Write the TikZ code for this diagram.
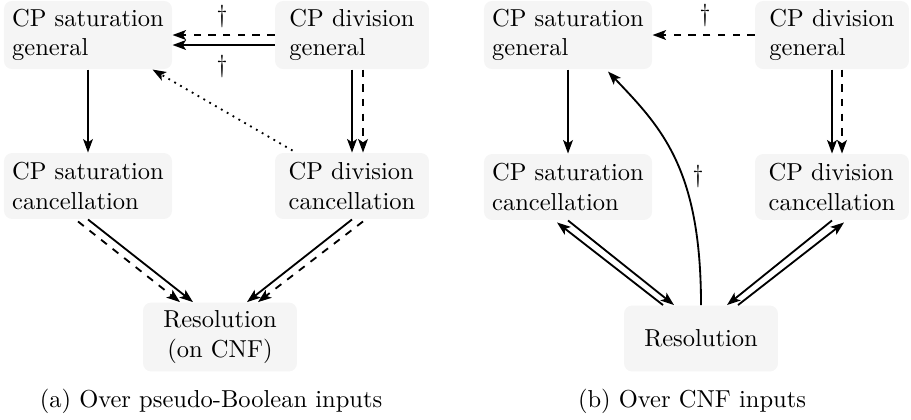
\documentclass[tikz,border=0pt]{standalone}
\usetikzlibrary{arrows.meta,calc}
\begin{document}
\begin{tikzpicture}[x=0.408pt,y=-0.408pt,
  box/.style={fill=gray!8, rounded corners=3.3pt, inner sep=3.33pt, minimum width=62.8pt, minimum height=26.9pt},
  lbox/.style={box, align=left},
  cbox/.style={box, align=center},
  arr/.style={line width=0.75pt, -{Stealth[length=5.5pt,width=4pt,inset=1.3pt]}},
  dg/.style={inner sep=0pt}]
\useasboundingbox (0,0) rectangle (911,419);
% (a)
\node[lbox] (sg) at (88,35) {CP saturation\\general};
\node[lbox] (dg) at (352,35) {CP division\\general};
\node[lbox] (sc) at (88,186) {CP saturation\\cancellation};
\node[lbox] (dc) at (352,186) {CP division\\cancellation};
\node[cbox] (res) at (220,337) {Resolution\\(on CNF)};
\draw[arr, dashed] (dg.west) -- (sg.east);
\draw[arr] ($(dg.west)+(0,10)$) -- ($(sg.east)+(0,10)$);
\node[dg] (d1) at (222,16) {\dag};
\node[dg] (d2) at (222,66) {\dag};
\draw[arr] (sg.south) -- (sc.north);
\draw[arr] (dg.south) -- (dc.north);
\draw[arr, dashed] ($(dg.south)+(11,0)$) -- ($(dc.north)+(11,0)$);
\draw[arr, dotted] ($(dc.north west)+(18,-2)$) -- ($(sg.south east)+(-20,0)$);
\draw[arr] (sc.south) -- ($(res.north)+(-27,0)$);
\draw[arr, dashed] ($(sc.south)+(-10,2)$) -- ($(res.north)+(-40,0)$);
\draw[arr] (dc.south) -- ($(res.north)+(27,0)$);
\draw[arr, dashed] ($(dc.south)+(11,2)$) -- ($(res.north)+(38,0)$);
\node (capa) at (211,401) {(a) Over pseudo-Boolean inputs};
% (b)
\node[lbox] (sg2) at (568,35) {CP saturation\\general};
\node[lbox] (dg2) at (832,35) {CP division\\general};
\node[lbox] (sc2) at (568,187) {CP saturation\\cancellation};
\node[lbox] (dc2) at (832,187) {CP division\\cancellation};
\node[cbox] (res2) at (701,338.5) {Resolution};
\draw[arr, dashed] (dg2.west) -- (sg2.east);
\node[dg] (d3) at (705,15) {\dag};
\draw[arr] (sg2.south) -- (sc2.north);
\draw[arr] (dg2.south) -- (dc2.north);
\draw[arr, dashed] ($(dg2.south)+(10,0)$) -- ($(dc2.north)+(10,0)$);
\draw[arr] (res2.north) .. controls ($(res2.north)+(0,-136)$) and (662,128) .. ($(sg2.south)+(40,2)$);
\node[dg] (d4) at (698,176) {\dag};
\draw[arr] ($(res2.north)+(-38,0)$) -- ($(sc2.south)+(-11,2)$);
\draw[arr] (sc2.south) -- ($(res2.north)+(-27,0)$);
\draw[arr] (dc2.south) -- ($(res2.north)+(26,0)$);
\draw[arr] ($(res2.north)+(37,0)$) -- ($(dc2.south)+(12,2)$);
\node (capb) at (692,401) {(b) Over CNF inputs};
\end{tikzpicture}
\end{document}
